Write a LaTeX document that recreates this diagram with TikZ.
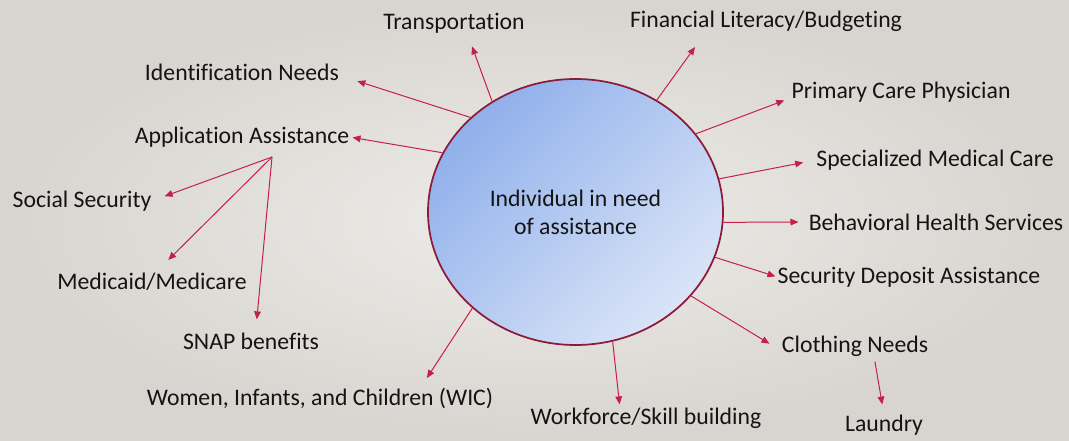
\documentclass[tikz,border=0pt]{standalone}
\usepackage{fontspec}
\setmainfont{Carlito}[Ligatures=NoCommon]
\usetikzlibrary{arrows.meta,shapes.geometric}

\definecolor{bgin}{RGB}{238,236,232}
\definecolor{bgout}{RGB}{216,213,209}
\definecolor{hubdark}{RGB}{144,176,235}
\definecolor{hublight}{RGB}{218,228,247}
\definecolor{hubedge}{RGB}{140,26,58}
\definecolor{arrred}{RGB}{196,32,72}
\definecolor{txt}{RGB}{20,20,20}

\tikzset{
  lbl/.style={inner sep=0pt, font=\fontsize{17.8}{21}\selectfont, text=txt},
  arr/.style={-{Triangle[length=6pt,width=5pt]}, color=arrred, line width=0.75pt},
}

\begin{document}
\begin{tikzpicture}[x=0.75pt,y=-0.75pt]%[px]

\shade [inner color=bgin, outer color=bgout] (0,0) rectangle (1069,441);

\node [lbl, ellipse, draw=hubedge, line width=1.3pt, minimum width=221.25pt, minimum height=199.5pt,
       left color=hubdark, right color=hublight, shading angle=45, align=center] (hub) at (575.5,212)
       {Individual in need\\of assistance};

\node [lbl] (transport) at (454,23) {Transportation};
\node [lbl] (financial) at (766,21) {Financial Literacy/Budgeting};
\node [lbl] (ident) at (242,72) {Identification Needs};
\node [lbl] (primary) at (901,92) {Primary Care Physician};
\node [lbl] (appl) at (242,137) {Application Assistance};
\node [lbl] (special) at (935,160) {Specialized Medical Care};
\node [lbl] (social) at (82,201) {Social Security};
\node [lbl] (behav) at (936,222) {Behavioral Health Services};
\node [lbl] (medic) at (152,282) {Medicaid/Medicare};
\node [lbl] (secur) at (909,277) {Security Deposit Assistance};
\node [lbl] (snap) at (251,341) {SNAP benefits};
\node [lbl] (cloth) at (855,346) {Clothing Needs};
\node [lbl] (wic) at (320,398) {Women, Infants, and Children (WIC)};
\node [lbl] (work) at (646,418) {Workforce/Skill building};
\node [lbl] (laundry) at (884,425) {Laundry};

\coordinate (fork) at (272,157);

\draw [arr, shorten >=10.4pt] (hub.127) -- (transport.-38);
\draw [arr, shorten >=14.3pt] (hub.54) -- (financial.-170);
\draw [arr, shorten >=14.2pt] (hub.138) -- (ident.-2);
\draw [arr, shorten >=2.3pt] (hub.156) -- (appl.east);
\draw [arr, shorten >=5.6pt] (hub.33) -- (primary.-177);
\draw [arr, shorten >=9.9pt] (hub.13) -- (special.west);
\draw [arr, shorten >=7.5pt] (hub.-4) -- (behav.west);
\draw [arr, shorten >=1.6pt] (hub.-18) -- (secur.west);
\draw [arr, shorten >=10.7pt] (hub.-36) -- (cloth.-176);
\draw [arr, shorten >=8.4pt] (hub.-137) -- (wic.6);
\draw [arr, shorten >=2.3pt] (hub.-74) -- (work.158);

\draw [arr, shorten <=3.8pt, shorten >=7.6pt] (cloth.-29) -- (laundry.north);

\draw [arr, shorten >=10.4pt] (fork) -- (social.east);
\draw [arr, shorten >=13.9pt] (fork) -- (medic.71);
\draw [arr, shorten >=9.8pt] (fork) -- (snap.62);
\end{tikzpicture}
\end{document}
